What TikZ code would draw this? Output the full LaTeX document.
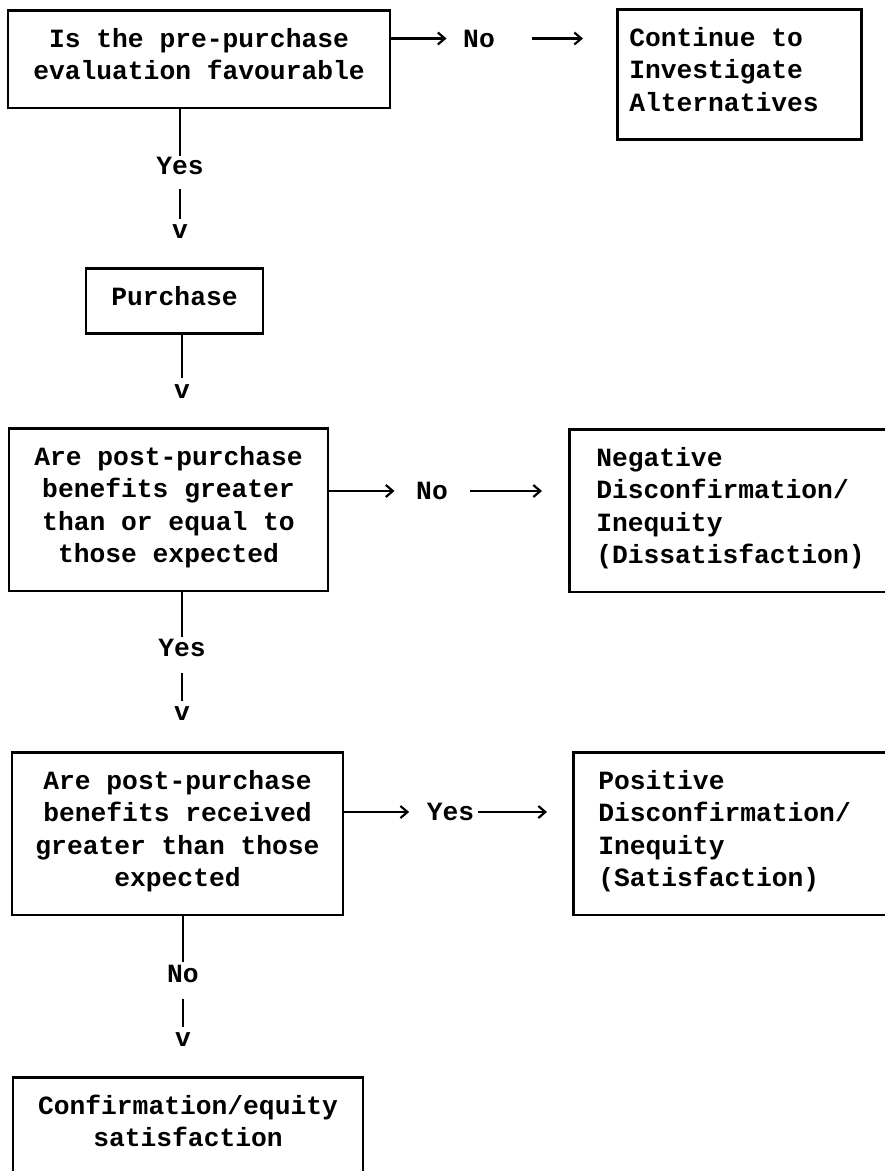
\documentclass[tikz,border=0pt]{standalone}
\usepackage{fontspec}
\newfontfamily\dmfont{Liberation Mono}
\newcommand\dmf{\dmfont\bfseries\fontsize{26.3pt}{32.5pt}\selectfont}
\usetikzlibrary{arrows.meta}
\tikzset{
  box/.style={draw, line width=2.6pt, inner ysep=0pt, font=\dmf,
    execute at begin node={\rule{0pt}{37pt}},
    execute at end node={\rule[-28pt]{0pt}{28pt}}},
  cbox/.style={box, align=flush center, inner xsep=0pt},
  lbox/.style={box, align=flush left},
  lab/.style={font=\dmf, inner sep=0.5pt},
  conn/.style={line width=2.6pt},
  arr/.style={conn, -{Straight Barb[length=7pt,width=12pt,line width=2.2pt]}}
}
\begin{document}
\begin{tikzpicture}[x=1pt,y=-1pt]
\useasboundingbox (0,0) rectangle (885,1171);

% boxes
\node[cbox, anchor=north, text width=382pt] (b1) at (199,9) {Is the pre-purchase\\evaluation favourable};
\node[lbox, anchor=north west, inner xsep=12pt, text width=220pt] (b2) at (616,8) {Continue to\\Investigate\\Alternatives};
\node[cbox, anchor=north, text width=177pt] (pur) at (174.5,267) {Purchase};
\node[cbox, anchor=north, text width=319pt] (b3) at (168.5,427) {Are post-purchase\\benefits greater\\than or equal to\\those expected};
\node[lbox, anchor=north west, inner xsep=27pt, text width=300pt] (neg) at (568,428) {Negative\\Disconfirmation/\\Inequity\\(Dissatisfaction)};
\node[cbox, anchor=north, text width=331pt] (b4) at (177.5,751) {Are post-purchase\\benefits received\\greater than those\\expected};
\node[lbox, anchor=north west, inner xsep=25pt, text width=300pt] (pos) at (572,751) {Positive\\Disconfirmation/\\Inequity\\(Satisfaction)};
\node[cbox, anchor=north, text width=350pt] (b5) at (188,1076) {Confirmation/equity\\satisfaction};

% labels on vertical connectors
\node[lab] (y1) at (180,166) {Yes};
\node[lab] (v1) at (180,232) {v};
\node[lab] (v2) at (182,392) {v};
\node[lab] (y2) at (182,648) {Yes};
\node[lab] (v3) at (182,714) {v};
\node[lab] (n3) at (183,974) {No};
\node[lab] (v4) at (183,1040) {v};

% labels on horizontal connectors
\node[lab] (n1) at (479,38.5) {No};
\node[lab] (n2) at (432,491) {No};
\node[lab] (y3) at (450.5,812) {Yes};

% vertical connectors
\draw[conn, shorten >=1pt] (b1.south -| y1) -- (y1.north);
\draw[conn, shorten <=14pt, shorten >=5pt] (y1.south) -- (v1.north);
\draw[conn, shorten >=6pt] (pur.south -| v2) -- (v2.north);
\draw[conn, shorten >=2pt] (b3.south -| y2) -- (y2.north);
\draw[conn, shorten <=15pt, shorten >=5pt] (y2.south) -- (v3.north);
\draw[conn, shorten >=3pt] (b4.south -| n3) -- (n3.north);
\draw[conn, shorten <=15pt, shorten >=5pt] (n3.south) -- (v4.north);

% horizontal connectors
\draw[arr, shorten >=16pt] (b1.east |- n1) -- (n1.west);
\draw[arr, shorten <=37pt, shorten >=33pt] (n1.east) -- (b2.west |- n1);
\draw[arr, shorten >=21pt] (b3.east |- n2) -- (n2.west);
\draw[arr, shorten <=22pt, shorten >=26pt] (n2.east) -- (neg.west |- n2);
\draw[arr, shorten >=17pt] (b4.east |- y3) -- (y3.west);
\draw[arr, shorten <=3pt, shorten >=25pt] (y3.east) -- (pos.west |- y3);
\end{tikzpicture}
\end{document}
